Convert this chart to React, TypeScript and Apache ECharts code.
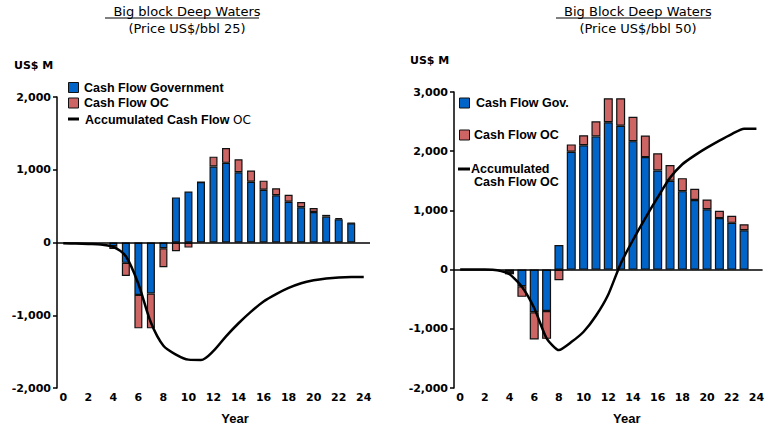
import React, { useEffect, useRef } from 'react';
import * as echarts from 'echarts';

// Year categories 0..24; bars exist for years 4..23
const years = ['0', '1', '2', '3', '4', '5', '6', '7', '8', '9', '10', '11', '12', '13', '14', '15', '16', '17', '18', '19', '20', '21', '22', '23', '24'];
const barYears = [4, 5, 6, 7, 8, 9, 10, 11, 12, 13, 14, 15, 16, 17, 18, 19, 20, 21, 22, 23];

// Left chart: price US$/bbl 25
const leftGov = [-50, -280, -720, -700, -80, 620, 700, 830, 1045, 1095, 965, 835, 725, 650, 560, 485, 420, 355, 320, 265];
const leftOC = [-40, -180, -460, -480, -260, -120, -70, 0, 135, 205, 180, 155, 125, 95, 95, 70, 55, 25, 15, 5];
const leftAcc = [-10, -15, -20, -27, -60, -190, -570, -1100, -1420, -1540, -1610, -1615, -1490, -1290, -1110, -950, -810, -710, -625, -560, -520, -495, -480, -475, -475];

// Right chart: price US$/bbl 50
const rightGov = [-40, -280, -720, -700, 415, 1990, 2100, 2250, 2490, 2430, 2170, 1900, 1675, 1500, 1325, 1175, 1020, 870, 790, 665];
const rightOC = [-40, -180, -460, -470, -180, 125, 170, 255, 405, 465, 410, 365, 290, 265, 220, 190, 165, 125, 120, 100];
const rightAcc = [0, 0, 0, -10, -80, -290, -650, -1160, -1360, -1225, -1050, -780, -420, 100, 500, 870, 1220, 1550, 1780, 1930, 2060, 2180, 2290, 2380, 2380];

const BLUE = '#0064C8';
const RED = '#CD6565';
const AXIS_FONT = 'DejaVu Sans';
const LEG_FONT = 'Liberation Sans';

// place bar values on the full year category list
const onYears = (vals: number[]) =>
  years.map((y) => {
    const i = barYears.indexOf(Number(y));
    return i >= 0 ? vals[i] : '-';
  });

export default function App() {
  const ref = useRef<HTMLDivElement>(null);

  useEffect(() => {
    document.body.style.margin = '0';
    const chart = echarts.init(ref.current!, null, { renderer: 'svg' });

    const xAxisBase = (gridIndex: number, padLeft: number) => ({
      type: 'category',
      gridIndex,
      data: years,
      boundaryGap: true,
      position: 'bottom',
      axisLine: { show: false, onZero: false },
      axisTick: { show: false },
      splitLine: { show: false },
      axisLabel: {
        interval: 1,
        margin: 4,
        color: '#000',
        fontFamily: AXIS_FONT,
        fontWeight: 'bold',
        fontSize: 11,
      },
      name: 'Year',
      nameLocation: 'middle',
      nameGap: 24,
      nameTextStyle: {
        color: '#000',
        fontFamily: LEG_FONT,
        fontWeight: 'bold',
        fontSize: 13,
        padding: [0, 0, 0, padLeft],
      },
    });

    const yAxisBase = (gridIndex: number, min: number, max: number) => ({
      type: 'value',
      gridIndex,
      min,
      max,
      interval: 1000,
      axisLine: { show: true, lineStyle: { color: '#000', width: 1.5 } },
      axisTick: { show: true, length: 4, lineStyle: { color: '#000', width: 1.5 } },
      splitLine: { show: false },
      axisLabel: {
        margin: 6,
        color: '#000',
        fontFamily: AXIS_FONT,
        fontWeight: 'bold',
        fontSize: 11,
        formatter: (v: number) => v.toLocaleString('en-US'),
      },
    });

    const zeroLine = {
      silent: true,
      symbol: 'none',
      label: { show: false },
      lineStyle: { color: '#000', width: 1.5, type: 'solid' },
      data: [{ yAxis: 0 }],
    };

    const barStyle = (color: string) => ({ color, borderColor: '#111', borderWidth: 1.2 });

    const legendSquare = (x: number, y: number, color: string) => ({
      type: 'rect',
      shape: { x, y, width: 10, height: 10 },
      style: { fill: color, stroke: '#111', lineWidth: 1 },
    });
    const legendText = (x: number, y: number, text: string) => ({
      type: 'text',
      x,
      y,
      style: {
        text,
        fill: '#000',
        fontFamily: LEG_FONT,
        fontWeight: 'bold',
        fontSize: 12.5,
        verticalAlign: 'middle',
        align: 'left',
      },
    });

    const titleStyle = { fontFamily: AXIS_FONT, fontWeight: 'normal', fontSize: 13, color: '#000' };

    const option: any = {
      animation: false,
      backgroundColor: '#fff',
      title: [
        {
          text: 'Big block Deep Waters',
          subtext: '(Price US$/bbl 25)',
          left: 182,
          top: 0,
          textAlign: 'center',
          itemGap: 4,
          textStyle: titleStyle,
          subtextStyle: titleStyle,
        },
        {
          text: 'Big Block Deep Waters',
          subtext: '(Price US$/bbl 50)',
          left: 633,
          top: 0,
          textAlign: 'center',
          itemGap: 4,
          textStyle: titleStyle,
          subtextStyle: titleStyle,
        },
      ],
      grid: [
        { left: 57, top: 97, width: 313, height: 291 },
        { left: 454, top: 92, width: 313, height: 302 },
      ],
      xAxis: [xAxisBase(0, 43), xAxisBase(1, 37)],
      yAxis: [yAxisBase(0, -2000, 2000), yAxisBase(1, -2000, 3000)],
      series: [
        {
          name: 'Cash Flow Government',
          type: 'bar',
          xAxisIndex: 0,
          yAxisIndex: 0,
          stack: 'left',
          barWidth: 8,
          itemStyle: barStyle(BLUE),
          data: onYears(leftGov),
          markLine: zeroLine,
        },
        {
          name: 'Cash Flow OC',
          type: 'bar',
          xAxisIndex: 0,
          yAxisIndex: 0,
          stack: 'left',
          barWidth: 8,
          itemStyle: barStyle(RED),
          data: onYears(leftOC),
        },
        {
          name: 'Accumulated Cash Flow OC',
          type: 'line',
          xAxisIndex: 0,
          yAxisIndex: 0,
          smooth: 0.3,
          symbol: 'none',
          z: 5,
          lineStyle: { color: '#000', width: 2.5 },
          data: leftAcc,
        },
        {
          name: 'Cash Flow Gov.',
          type: 'bar',
          xAxisIndex: 1,
          yAxisIndex: 1,
          stack: 'right',
          barWidth: 9,
          itemStyle: barStyle(BLUE),
          data: onYears(rightGov),
          markLine: zeroLine,
        },
        {
          name: 'Cash Flow OC ',
          type: 'bar',
          xAxisIndex: 1,
          yAxisIndex: 1,
          stack: 'right',
          barWidth: 9,
          itemStyle: barStyle(RED),
          data: onYears(rightOC),
        },
        {
          name: 'Accumulated Cash Flow OC ',
          type: 'line',
          xAxisIndex: 1,
          yAxisIndex: 1,
          smooth: 0.2,
          symbol: 'none',
          z: 5,
          lineStyle: { color: '#000', width: 2.5 },
          data: rightAcc,
        },
      ],
      graphic: [
        // title underlines
        { type: 'line', shape: { x1: 105, y1: 18, x2: 259, y2: 18 }, style: { stroke: '#000', lineWidth: 1 } },
        { type: 'line', shape: { x1: 556, y1: 18, x2: 711, y2: 18 }, style: { stroke: '#000', lineWidth: 1 } },
        // unit labels
        {
          type: 'text', x: 14, y: 65,
          style: { text: 'US$ M', fill: '#000', fontFamily: AXIS_FONT, fontWeight: 'bold', fontSize: 11, verticalAlign: 'middle' },
        },
        {
          type: 'text', x: 410, y: 60,
          style: { text: 'US$ M', fill: '#000', fontFamily: AXIS_FONT, fontWeight: 'bold', fontSize: 11, verticalAlign: 'middle' },
        },
        // left legend
        legendSquare(68.5, 82.5, BLUE),
        legendText(84, 87.5, 'Cash Flow Government'),
        legendSquare(68.5, 98, RED),
        legendText(84, 103, 'Cash Flow OC'),
        { type: 'line', shape: { x1: 68, y1: 119, x2: 79, y2: 119 }, style: { stroke: '#000', lineWidth: 3 } },
        {
          type: 'text', x: 85, y: 119.5,
          style: {
            text: '{a|Accumulated Cash Flow }{b|OC}',
            verticalAlign: 'middle',
            rich: {
              a: { fontFamily: LEG_FONT, fontWeight: 'bold', fontSize: 12.5, fill: '#000', color: '#000' },
              b: { fontFamily: AXIS_FONT, fontWeight: 'normal', fontSize: 12, fill: '#000', color: '#000' },
            },
          },
        },
        // right legend
        legendSquare(459.5, 98, BLUE),
        legendText(476, 103, 'Cash Flow Gov.'),
        legendSquare(459.5, 130, RED),
        legendText(474, 135, 'Cash Flow OC'),
        { type: 'line', shape: { x1: 458, y1: 169, x2: 470, y2: 169 }, style: { stroke: '#000', lineWidth: 3 } },
        legendText(471, 169, 'Accumulated'),
        legendText(474, 182, 'Cash Flow OC'),
      ],
    };

    chart.setOption(option);
    return () => chart.dispose();
  }, []);

  return <div ref={ref} style={{ width: 767, height: 430 }} />;
}
